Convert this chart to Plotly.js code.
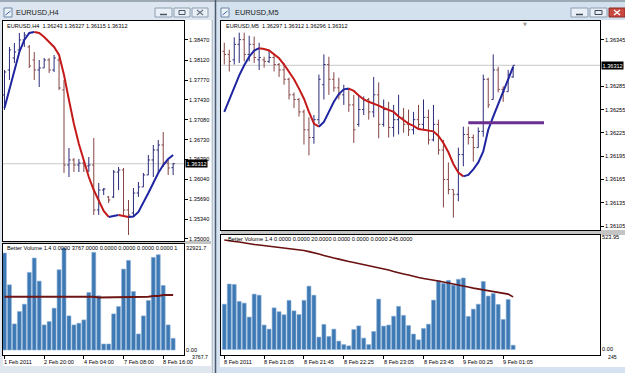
<!DOCTYPE html>
<html>
<head>
<meta charset="utf-8">
<script src="https://cdn.plot.ly/plotly-3.0.1.min.js"></script>
<style>
  html, body { margin: 0; padding: 0; background: #d5e2f0; overflow: hidden; }
  #chart { width: 625px; height: 373px; }
</style>
</head>
<body>
<div id="chart"></div>
<script>
// ---------- EURUSD H4 ----------
const h4Open  = [1.37511,1.37947,1.38156,1.38296,1.38470,1.38348,1.38121,1.37947,1.37982,1.38121,1.37947,1.38121,1.37598,1.36290,1.36378,1.36290,1.36325,1.36273,1.36290,1.35506,1.35854,1.35732,1.35732,1.36168,1.36203,1.35506,1.35454,1.35802,1.35907,1.36116,1.36378,1.36552,1.36639,1.36325,1.36243];
const h4High  = [1.37947,1.38348,1.38418,1.38592,1.38609,1.38383,1.38261,1.38121,1.38156,1.38156,1.38208,1.38156,1.37772,1.36587,1.36412,1.36395,1.36378,1.36430,1.36761,1.35977,1.35889,1.35749,1.36203,1.36255,1.36238,1.35680,1.35889,1.35994,1.36151,1.36465,1.36639,1.36726,1.36866,1.36378,1.36327];
const h4Low   = [1.37249,1.37772,1.38069,1.38243,1.38348,1.37982,1.37772,1.37650,1.37982,1.37895,1.37912,1.37598,1.36151,1.36081,1.36168,1.36168,1.36168,1.36168,1.35419,1.35419,1.35767,1.35628,1.35715,1.35854,1.35384,1.35070,1.35384,1.35732,1.35907,1.36116,1.36081,1.36168,1.36255,1.36116,1.36115];
const h4Close = [1.37912,1.38296,1.38261,1.38470,1.38557,1.38017,1.37947,1.37982,1.38121,1.37947,1.38156,1.37633,1.36290,1.36378,1.36290,1.36325,1.36273,1.36290,1.35506,1.35854,1.35872,1.35680,1.36168,1.36203,1.35506,1.35419,1.35802,1.35907,1.36116,1.36378,1.36552,1.36639,1.36325,1.36238,1.36312];
const h4Smooth = [1.37284,1.37598,1.37947,1.38261,1.38470,1.38592,1.38609,1.38592,1.38522,1.38435,1.38348,1.38208,1.37860,1.37424,1.37005,1.36657,1.36360,1.36081,1.35854,1.35663,1.35488,1.35384,1.35401,1.35419,1.35401,1.35384,1.35393,1.35471,1.35628,1.35802,1.35977,1.36151,1.36290,1.36395,1.36465];
const h4Volume = [31303,21048,8419,12413,14788,25042,29684,22236,8096,9175,13493,25906,32921.7,11010,8096,8635,9715,18566,31519,17487,1943,1943,11658,14032,26122,28928,18890,5181,11010,15975,29900,30763,20833,8096,3767];
const h4VolumeMA = [17200,17200,17200,17200,17200,17430,17430,17430,17200,17200,17200,17430,17200,17200,17200,17200,17200,17200,17200,16980,16980,16980,16980,16980,16980,16980,16980,17200,17200,17200,17430,17430,17750,17750,17750];
const h4PriceTicks = [1.38470,1.38120,1.37770,1.37430,1.37080,1.36730,1.36390,1.36040,1.35690,1.35340,1.35000];
const h4DateTicks = [0, 8, 16, 24, 32];
const h4DateLabels = ['1 Feb 2011', '2 Feb 20:00', '4 Feb 04:00', '7 Feb 08:00', '8 Feb 16:00'];

// ---------- EURUSD M5 ----------
const m5Open  = [1.36330,1.36326,1.36319,1.36339,1.36345,1.36326,1.36339,1.36319,1.36319,1.36317,1.36322,1.36313,1.36306,1.36294,1.36274,1.36268,1.36252,1.36229,1.36219,1.36242,1.36287,1.36313,1.36294,1.36283,1.36274,1.36281,1.36261,1.36236,1.36255,1.36268,1.36252,1.36274,1.36236,1.36255,1.36232,1.36242,1.36245,1.36236,1.36229,1.36242,1.36236,1.36245,1.36216,1.36236,1.36203,1.36165,1.36152,1.36146,1.36197,1.36223,1.36219,1.36206,1.36227,1.36294,1.36268,1.36306,1.36281,1.36278,1.36297];
const m5High  = [1.36341,1.36332,1.36348,1.36354,1.36354,1.36350,1.36349,1.36341,1.36323,1.36332,1.36326,1.36315,1.36315,1.36296,1.36277,1.36270,1.36255,1.36245,1.36248,1.36300,1.36326,1.36323,1.36303,1.36296,1.36287,1.36282,1.36274,1.36273,1.36272,1.36270,1.36297,1.36290,1.36268,1.36265,1.36261,1.36274,1.36257,1.36255,1.36252,1.36261,1.36268,1.36255,1.36261,1.36242,1.36216,1.36187,1.36152,1.36206,1.36233,1.36233,1.36223,1.36232,1.36300,1.36296,1.36326,1.36310,1.36285,1.36306,1.36312];
const m5Low   = [1.36313,1.36304,1.36313,1.36315,1.36317,1.36317,1.36315,1.36306,1.36309,1.36315,1.36304,1.36297,1.36287,1.36268,1.36257,1.36246,1.36210,1.36196,1.36211,1.36236,1.36268,1.36274,1.36278,1.36268,1.36261,1.36252,1.36212,1.36233,1.36248,1.36242,1.36245,1.36218,1.36233,1.36219,1.36220,1.36223,1.36225,1.36221,1.36223,1.36229,1.36229,1.36210,1.36214,1.36197,1.36129,1.36146,1.36116,1.36137,1.36182,1.36210,1.36188,1.36206,1.36220,1.36257,1.36268,1.36277,1.36265,1.36278,1.36296];
const m5Close = [1.36326,1.36317,1.36339,1.36345,1.36326,1.36339,1.36322,1.36322,1.36317,1.36322,1.36313,1.36306,1.36294,1.36274,1.36268,1.36252,1.36229,1.36219,1.36242,1.36294,1.36313,1.36294,1.36283,1.36274,1.36281,1.36261,1.36229,1.36255,1.36268,1.36252,1.36274,1.36236,1.36255,1.36232,1.36242,1.36245,1.36236,1.36229,1.36242,1.36236,1.36245,1.36216,1.36236,1.36203,1.36165,1.36152,1.36146,1.36197,1.36223,1.36219,1.36206,1.36227,1.36294,1.36261,1.36306,1.36281,1.36278,1.36300,1.36312];
const m5Smooth = [1.36252,1.36268,1.36283,1.36299,1.36312,1.36323,1.36331,1.36334,1.36333,1.36331,1.36326,1.36321,1.36313,1.36304,1.36294,1.36282,1.36269,1.36252,1.36237,1.36233,1.36239,1.36252,1.36265,1.36275,1.36281,1.36282,1.36279,1.36273,1.36268,1.36265,1.36263,1.36260,1.36257,1.36255,1.36252,1.36246,1.36241,1.36237,1.36234,1.36230,1.36229,1.36228,1.36227,1.36221,1.36212,1.36200,1.36185,1.36174,1.36169,1.36171,1.36178,1.36187,1.36201,1.36229,1.36246,1.36261,1.36278,1.36294,1.36310];
const m5Volume = [211,305,303,224,216,151,258,253,114,95,194,176,162,229,180,163,229,295,253,58,117,61,95,39,23,17,93,110,53,23,84,235,109,114,155,201,159,112,72,45,98,118,230,320,308,322,300,327,333,154,188,211,317,249,261,210,140,233,20];
const m5VolumeMA = [510,505,503,501,496,491,489,487,484,482,480,477,473,470,468,466,461,456,452,445,438,431,426,421,417,410,405,400,396,391,387,380,375,370,363,356,352,347,340,335,331,328,324,319,314,310,305,300,296,291,286,282,277,275,272,268,263,258,245];
const m5PriceTicks = [1.36345,1.36285,1.36255,1.36225,1.36195,1.36165,1.36135,1.36105];
const m5DateTicks = [0, 8, 16, 24, 32, 40, 48, 56];
const m5DateLabels = ['8 Feb 2011', '8 Feb 21:05', '8 Feb 21:45', '8 Feb 22:25', '8 Feb 23:05', '8 Feb 23:45', '9 Feb 00:25', '9 Feb 01:05'];
const m5LevelPrice = 1.36238;
const m5LevelSpan = [49, 64.2];

// ---------- styling ----------
const W = 625, H = 373;
const FONT = 'Liberation Sans, Arial, sans-serif';
const BAR_UP = '#2b2b78', BAR_DN = '#864444';
const LINE_UP = '#1f25a0', LINE_DN = '#c41a1a';
const VOL_FILL = '#3e79b4', VOL_EDGE = '#8db2d8';
const px = v => v / W;            // horizontal pixel -> paper
const py = v => 1 - v / H;        // vertical pixel -> paper

const idx = n => Array.from({ length: n }, (_, i) => i);

// Split a smoothed series into rising (blue) / falling (red) runs
function colourRuns(ys, xa, ya) {
  const runs = [];
  let cur = null, prev = 'up';
  for (let i = 0; i < ys.length - 1; i++) {
    let dir = ys[i + 1] > ys[i] ? 'up' : ys[i + 1] < ys[i] ? 'dn' : prev;
    if (!cur || cur.dir !== dir) {
      cur = { dir, x: [i], y: [ys[i]] };
      runs.push(cur);
    }
    cur.x.push(i + 1); cur.y.push(ys[i + 1]);
    prev = dir;
  }
  return runs.map(r => ({
    type: 'scatter', mode: 'lines', x: r.x, y: r.y, xaxis: xa, yaxis: ya,
    line: { color: r.dir === 'up' ? LINE_UP : LINE_DN, width: 2 },
    hoverinfo: 'skip', showlegend: false
  }));
}

function ohlc(o, h, l, c, xa, ya) {
  return {
    type: 'ohlc', x: idx(o.length), open: o, high: h, low: l, close: c,
    xaxis: xa, yaxis: ya, tickwidth: 0.35,
    increasing: { line: { color: BAR_UP, width: 1 } },
    decreasing: { line: { color: BAR_DN, width: 1 } },
    hoverinfo: 'skip', showlegend: false
  };
}

function volBars(v, xa, ya) {
  return {
    type: 'bar', x: idx(v.length), y: v, xaxis: xa, yaxis: ya, width: 0.8,
    marker: { color: VOL_FILL, line: { color: VOL_EDGE, width: 0.6 } },
    hoverinfo: 'skip', showlegend: false
  };
}

function volMA(v, xa, ya, colour, width) {
  return {
    type: 'scatter', mode: 'lines', x: idx(v.length), y: v, xaxis: xa, yaxis: ya,
    line: { color: colour, width: width }, hoverinfo: 'skip', showlegend: false
  };
}

const traces = [
  volBars(h4Volume, 'x2', 'y2'),
  volMA(h4VolumeMA, 'x2', 'y2', '#6e1515', 2),
  ohlc(h4Open, h4High, h4Low, h4Close, 'x', 'y'),
  ...colourRuns(h4Smooth, 'x', 'y'),
  volBars(m5Volume, 'x4', 'y4'),
  volMA(m5VolumeMA, 'x4', 'y4', '#6a1010', 1.6),
  ohlc(m5Open, m5High, m5Low, m5Close, 'x3', 'y3'),
  ...colourRuns(m5Smooth, 'x3', 'y3'),
  {
    type: 'scatter', mode: 'lines', x: m5LevelSpan, y: [m5LevelPrice, m5LevelPrice],
    xaxis: 'x3', yaxis: 'y3', line: { color: '#6a2d90', width: 3 },
    hoverinfo: 'skip', showlegend: false
  }
];

const tickFont = { family: FONT, size: 5.6, color: '#000' };
const frame = {
  showline: true, mirror: true, linecolor: '#000', linewidth: 1,
  showgrid: false, zeroline: false, fixedrange: true
};

const layout = {
  width: W, height: H, margin: { l: 0, r: 0, t: 0, b: 0 },
  paper_bgcolor: '#d5e2f0', plot_bgcolor: 'rgba(0,0,0,0)',
  showlegend: false, bargap: 0,
  font: { family: FONT, size: 6, color: '#000' },
  xaxis:  Object.assign({}, frame, { domain: [px(3), px(184)], range: [-0.3, 36.19], anchor: 'y',
            showticklabels: false, ticks: '', rangeslider: { visible: false } }),
  yaxis:  Object.assign({}, frame, { domain: [py(241), py(21)], range: [1.34965, 1.38801], anchor: 'x',
            side: 'right', tickvals: h4PriceTicks, tickformat: '.5f', ticks: 'outside', ticklen: 3,
            tickcolor: '#000', tickfont: tickFont }),
  xaxis2: Object.assign({}, frame, { domain: [px(3), px(184)], range: [-0.3, 36.19], anchor: 'y2',
            showticklabels: false, ticks: 'outside', ticklen: 3, tickcolor: '#000', tickvals: h4DateTicks }),
  yaxis2: Object.assign({}, frame, { domain: [py(355), py(244)], range: [-1614, 34213], anchor: 'x2',
            side: 'right', tickvals: [0, 32921.7], ticktext: ['0.00', '32921.7'], ticks: '',
            tickfont: tickFont }),
  xaxis3: Object.assign({}, frame, { domain: [px(221), px(600)], range: [-0.66, 75.44], anchor: 'y3',
            showticklabels: false, ticks: '', rangeslider: { visible: false } }),
  yaxis3: Object.assign({}, frame, { domain: [py(230), py(21)], range: [1.36100, 1.36369], anchor: 'x3',
            side: 'right', tickvals: m5PriceTicks, tickformat: '.5f', ticks: 'outside', ticklen: 3,
            tickcolor: '#000', tickfont: tickFont }),
  xaxis4: Object.assign({}, frame, { domain: [px(221), px(600)], range: [-0.66, 75.44], anchor: 'y4',
            showticklabels: false, ticks: 'outside', ticklen: 3, tickcolor: '#000', tickvals: m5DateTicks }),
  yaxis4: Object.assign({}, frame, { domain: [py(355), py(235)], range: [-25.6, 533.3], anchor: 'x4',
            side: 'right', tickvals: [0, 523.95], ticktext: ['0.00', '523.95'], ticks: '',
            tickfont: tickFont })
};

// window chrome
const rectPx = (x0, y0, x1, y1, fill, lineCol, lw) => ({
  type: 'rect', xref: 'paper', yref: 'paper', layer: 'below',
  x0: px(x0), x1: px(x1), y0: py(y1), y1: py(y0),
  fillcolor: fill, line: { color: lineCol || fill, width: lw || 0 }
});
const linePx = (x0, y0, x1, y1, col, w) => ({
  type: 'line', xref: 'paper', yref: 'paper', layer: 'below',
  x0: px(x0), x1: px(x1), y0: py(y0), y1: py(y1), line: { color: col, width: w }
});

const shapes = [
  rectPx(0, 0, 214, 373, '#dfe6ee'),
  rectPx(0, 0, 625, 2, '#9ea9b6'),
  rectPx(0, 2, 213, 20, '#dde6f0'),
  rectPx(216, 2, 625, 20, '#d3e0ee'),
  rectPx(3, 20, 211, 366, '#ffffff'),
  rectPx(220, 20, 625, 367, '#ffffff'),
  rectPx(3, 241, 211, 244, '#c4c4c4'),
  rectPx(221, 230, 625, 235, '#c4c4c4'),
  linePx(215.5, 0, 215.5, 373, '#4b5a6e', 1.5),
  linePx(212.5, 20, 212.5, 373, '#b8c2cc', 1),
  // bid lines at the last close
  { type: 'line', xref: 'paper', yref: 'y', layer: 'below', x0: px(3), x1: px(184),
    y0: h4Close[h4Close.length - 1], y1: h4Close[h4Close.length - 1], line: { color: '#c8c8c8', width: 1 } },
  { type: 'line', xref: 'paper', yref: 'y3', layer: 'below', x0: px(221), x1: px(600),
    y0: m5Close[m5Close.length - 1], y1: m5Close[m5Close.length - 1], line: { color: '#c8c8c8', width: 1 } },
  // title-bar icons
  rectPx(4, 8, 12, 17, '#eef3f9', '#6d86a6', 1),
  linePx(5.5, 15, 10.5, 11, '#3b64a8', 1),
  rectPx(221, 8, 229, 17, '#eef3f9', '#6d86a6', 1),
  linePx(222.5, 15, 227.5, 11, '#3b64a8', 1),
  // left window buttons
  rectPx(155, 8, 172, 17, '#e9eff6', '#8e9db1', 1),
  rectPx(174, 8, 190, 17, '#e9eff6', '#8e9db1', 1),
  rectPx(192, 8, 208, 17, '#e9eff6', '#8e9db1', 1),
  linePx(160, 14.5, 167, 14.5, '#4a5566', 1.5),
  rectPx(179, 10.5, 185, 14.5, 'rgba(0,0,0,0)', '#4a5566', 1),
  linePx(197, 10, 203, 15, '#6b7685', 1.2),
  linePx(197, 15, 203, 10, '#6b7685', 1.2),
  // right window buttons
  rectPx(571, 8, 588, 17, '#e9eff6', '#8e9db1', 1),
  rectPx(590, 8, 607, 17, '#e9eff6', '#8e9db1', 1),
  rectPx(609, 8, 625, 17, '#c9493f', '#8a2c26', 1),
  linePx(576, 14.5, 583, 14.5, '#3e4858', 1.5),
  rectPx(595, 10.5, 602, 14.5, 'rgba(0,0,0,0)', '#3e4858', 1),
  linePx(614, 10, 620, 15, '#ffffff', 1.4),
  linePx(614, 15, 620, 10, '#ffffff', 1.4)
];
layout.shapes = shapes;

const txt = (x, y, text, size, extra) => Object.assign({
  xref: 'paper', yref: 'paper', x: px(x), y: py(y), text: text, showarrow: false,
  xanchor: 'left', yanchor: 'middle', font: { family: FONT, size: size, color: '#000' }
}, extra || {});

const annotations = [
  txt(14, 12, 'EURUSD,H4', 7.4, { font: { family: FONT, size: 7.4, color: '#1a1a1a' } }),
  txt(233, 12, 'EURUSD,M5', 7.4, { font: { family: FONT, size: 7.4, color: '#1a1a1a' } }),
  txt(5, 26, 'EURUSD,H4  ' + [h4Open, h4High, h4Low, h4Close].map(a => a[a.length - 1].toFixed(5)).join(' '), 5.6),
  txt(224, 26, 'EURUSD,M5  ' + [m5Open, m5High, m5Low, m5Close].map(a => a[a.length - 1].toFixed(5)).join(' '), 5.6),
  txt(5, 248, 'Better Volume 1.4 0.0000 ' + h4Volume[h4Volume.length - 1].toFixed(4) + ' 0.0000 0.0000 0.0000 0.0000 1', 5.6),
  txt(226, 239, 'Better Volume 1.4 0.0000 0.0000 ' + m5Volume[m5Volume.length - 1].toFixed(4) + ' 0.0000 0.0000 0.0000 ' + m5VolumeMA[m5VolumeMA.length - 1].toFixed(4), 5.6),
  txt(190, 356.5, '3767.7', 5.2),
  txt(606, 356.5, '245', 5.2),
  // current price boxes
  { xref: 'paper', yref: 'y', x: px(185), y: h4Close[h4Close.length - 1], text: h4Close[h4Close.length - 1].toFixed(5),
    showarrow: false, xanchor: 'left', yanchor: 'middle', bgcolor: '#000', borderpad: 0.5,
    font: { family: FONT, size: 5.6, color: '#fff' } },
  { xref: 'paper', yref: 'y3', x: px(601), y: m5Close[m5Close.length - 1], text: m5Close[m5Close.length - 1].toFixed(5),
    showarrow: false, xanchor: 'left', yanchor: 'middle', bgcolor: '#000', borderpad: 0.5,
    font: { family: FONT, size: 5.6, color: '#fff' } },
  // chart-shift marker
  txt(521, 23.5, '▼', 5, { font: { family: 'DejaVu Sans', size: 5, color: '#9a9a9a' } })
];
h4DateTicks.forEach((t, i) => annotations.push({
  xref: 'x2', yref: 'paper', x: t, y: py(362), xshift: -2, text: h4DateLabels[i], showarrow: false,
  xanchor: 'left', yanchor: 'middle', font: { family: FONT, size: 5.6, color: '#000' }
}));
m5DateTicks.forEach((t, i) => annotations.push({
  xref: 'x4', yref: 'paper', x: t, y: py(362), xshift: -2, text: m5DateLabels[i], showarrow: false,
  xanchor: 'left', yanchor: 'middle', font: { family: FONT, size: 5.6, color: '#000' }
}));
layout.annotations = annotations;

Plotly.newPlot('chart', traces, layout, { staticPlot: true, displayModeBar: false });
</script>
</body>
</html>
